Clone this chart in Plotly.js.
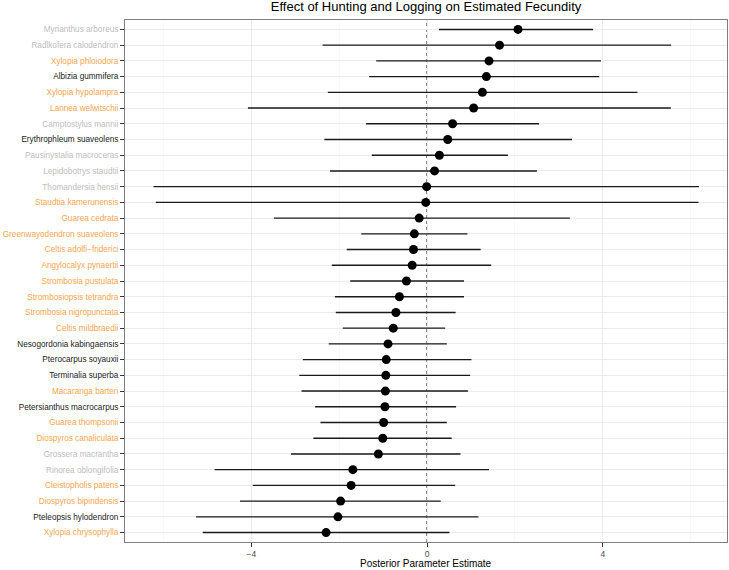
<!DOCTYPE html>
<html>
<head>
<meta charset="utf-8">
<script src="https://cdn.plot.ly/plotly-3.0.1.min.js"></script>
<style>html,body{margin:0;padding:0;background:#fff;}#chart{width:729px;height:570px;}</style>
</head>
<body>
<div id="chart"></div>
<script>
const species = [
  "Myrianthus arboreus","Radlkofera calodendron","Xylopia phloiodora","Albizia gummifera",
  "Xylopia hypolampra","Lannea welwitschii","Camptostylus mannii","Erythrophleum suaveolens",
  "Pausinystalia macroceras","Lepidobotrys staudtii","Thomandersia hensii","Staudtia kamerunensis",
  "Guarea cedrata","Greenwayodendron suaveolens","Celtis adolfi\u2212friderici","Angylocalyx pynaertii",
  "Strombosia pustulata","Strombosiopsis tetrandra","Strombosia nigropunctata","Celtis mildbraedii",
  "Nesogordonia kabingaensis","Pterocarpus soyauxii","Terminalia superba","Macaranga barteri",
  "Petersianthus macrocarpus","Guarea thompsonii","Diospyros canaliculata","Grossera macrantha",
  "Rinorea oblongifolia","Cleistopholis patens","Diospyros bipindensis","Pteleopsis hylodendron",
  "Xylopia chrysophylla"
];
const estimate = [2.07,1.65,1.41,1.35,1.26,1.06,0.58,0.47,0.28,0.17,-0.01,-0.03,-0.18,-0.29,-0.31,-0.34,
  -0.47,-0.63,-0.71,-0.77,-0.89,-0.93,-0.94,-0.95,-0.96,-0.99,-1.01,-1.11,-1.69,-1.73,-1.97,-2.03,-2.30];
const lower = [0.27,-2.38,-1.16,-1.32,-2.26,-4.08,-1.39,-2.34,-1.26,-2.21,-6.23,-6.18,-3.49,-1.50,-1.83,-2.17,
  -1.75,-2.10,-2.08,-1.92,-2.24,-2.83,-2.91,-2.86,-2.55,-2.43,-2.59,-3.10,-4.84,-3.97,-4.26,-5.26,-5.11];
const upper = [3.78,5.56,3.96,3.92,4.79,5.55,2.55,3.30,1.84,2.50,6.19,6.18,3.25,0.92,1.22,1.46,
  0.84,0.84,0.65,0.41,0.45,1.01,0.98,0.93,0.66,0.45,0.56,0.76,1.41,0.64,0.31,1.17,0.51];
const group = ["g","g","o","b","o","o","g","b","g","g","g","o","o","o","o","o",
  "o","o","o","o","b","b","b","o","b","o","o","g","g","o","o","b","o"];
const groupColors = {g:"#bdbdbd", o:"#f9a54f", b:"#1a1a1a"};
const xTicks = [-4,0,4];

const ticktext = species.map((s,i)=>`<span style="color:${groupColors[group[i]]}">${s}</span>`);

const trace = {
  type:"scatter", mode:"markers",
  x: estimate, y: species,
  marker:{color:"#000", size:9},
  error_x:{type:"data", symmetric:false,
    array: upper.map((u,i)=>u-estimate[i]),
    arrayminus: lower.map((l,i)=>estimate[i]-l),
    width:0, thickness:1.4, color:"#1a1a1a"},
  hoverinfo:"x+y", showlegend:false
};

const font = "Liberation Sans, Arial, sans-serif";
const layout = {
  width:729, height:570,
  margin:{l:125, r:2, t:20, b:28},
  paper_bgcolor:"#fff", plot_bgcolor:"#fff",
  font:{family:font, size:8.2, color:"#1a1a1a"},
  title:{text:"Effect of Hunting and Logging on Estimated Fecundity",
    font:{family:font, size:13, color:"#000"}, x:0.5844, xanchor:"center", y:0.996, yanchor:"top"},
  xaxis:{range:[-6.88,6.83], tickvals:xTicks, ticktext:xTicks.map(v=>v<0?"\u2212"+Math.abs(v):String(v)),
    showgrid:true, gridcolor:"#ebebeb", gridwidth:1,
    minor:{dtick:2, tick0:0, showgrid:true, gridcolor:"#f4f4f4", gridwidth:0.6, ticks:""},
    zeroline:false, ticks:"outside", ticklen:4, tickcolor:"#333", tickwidth:1,
    tickfont:{family:font, size:8.5, color:"#4d4d4d"},
    showline:true, mirror:true, linecolor:"#7f7f7f", linewidth:1},
  yaxis:{type:"category", categoryorder:"array", categoryarray:species,
    range:[species.length-0.4, -0.6],
    tickvals:species, ticktext:ticktext,
    showgrid:true, gridcolor:"#ebebeb", gridwidth:1,
    zeroline:false, ticks:"outside", ticklen:4, tickcolor:"#333", tickwidth:1,
    tickfont:{family:font, size:8.2},
    showline:true, mirror:true, linecolor:"#7f7f7f", linewidth:1},
  annotations:[{text:"Posterior Parameter Estimate", xref:"paper", yref:"paper",
    x:0.5, y:-0.042, xanchor:"center", yanchor:"middle", showarrow:false,
    font:{family:font, size:10, color:"#000"}}],
  shapes:[{type:"line", xref:"x", yref:"paper", x0:0, x1:0, y0:0, y1:1,
    line:{color:"#000", width:1.1, dash:"dot"}, layer:"below"}]
};
Plotly.newPlot("chart",[trace],layout,{displayModeBar:false, staticPlot:true});
</script>
</body>
</html>
